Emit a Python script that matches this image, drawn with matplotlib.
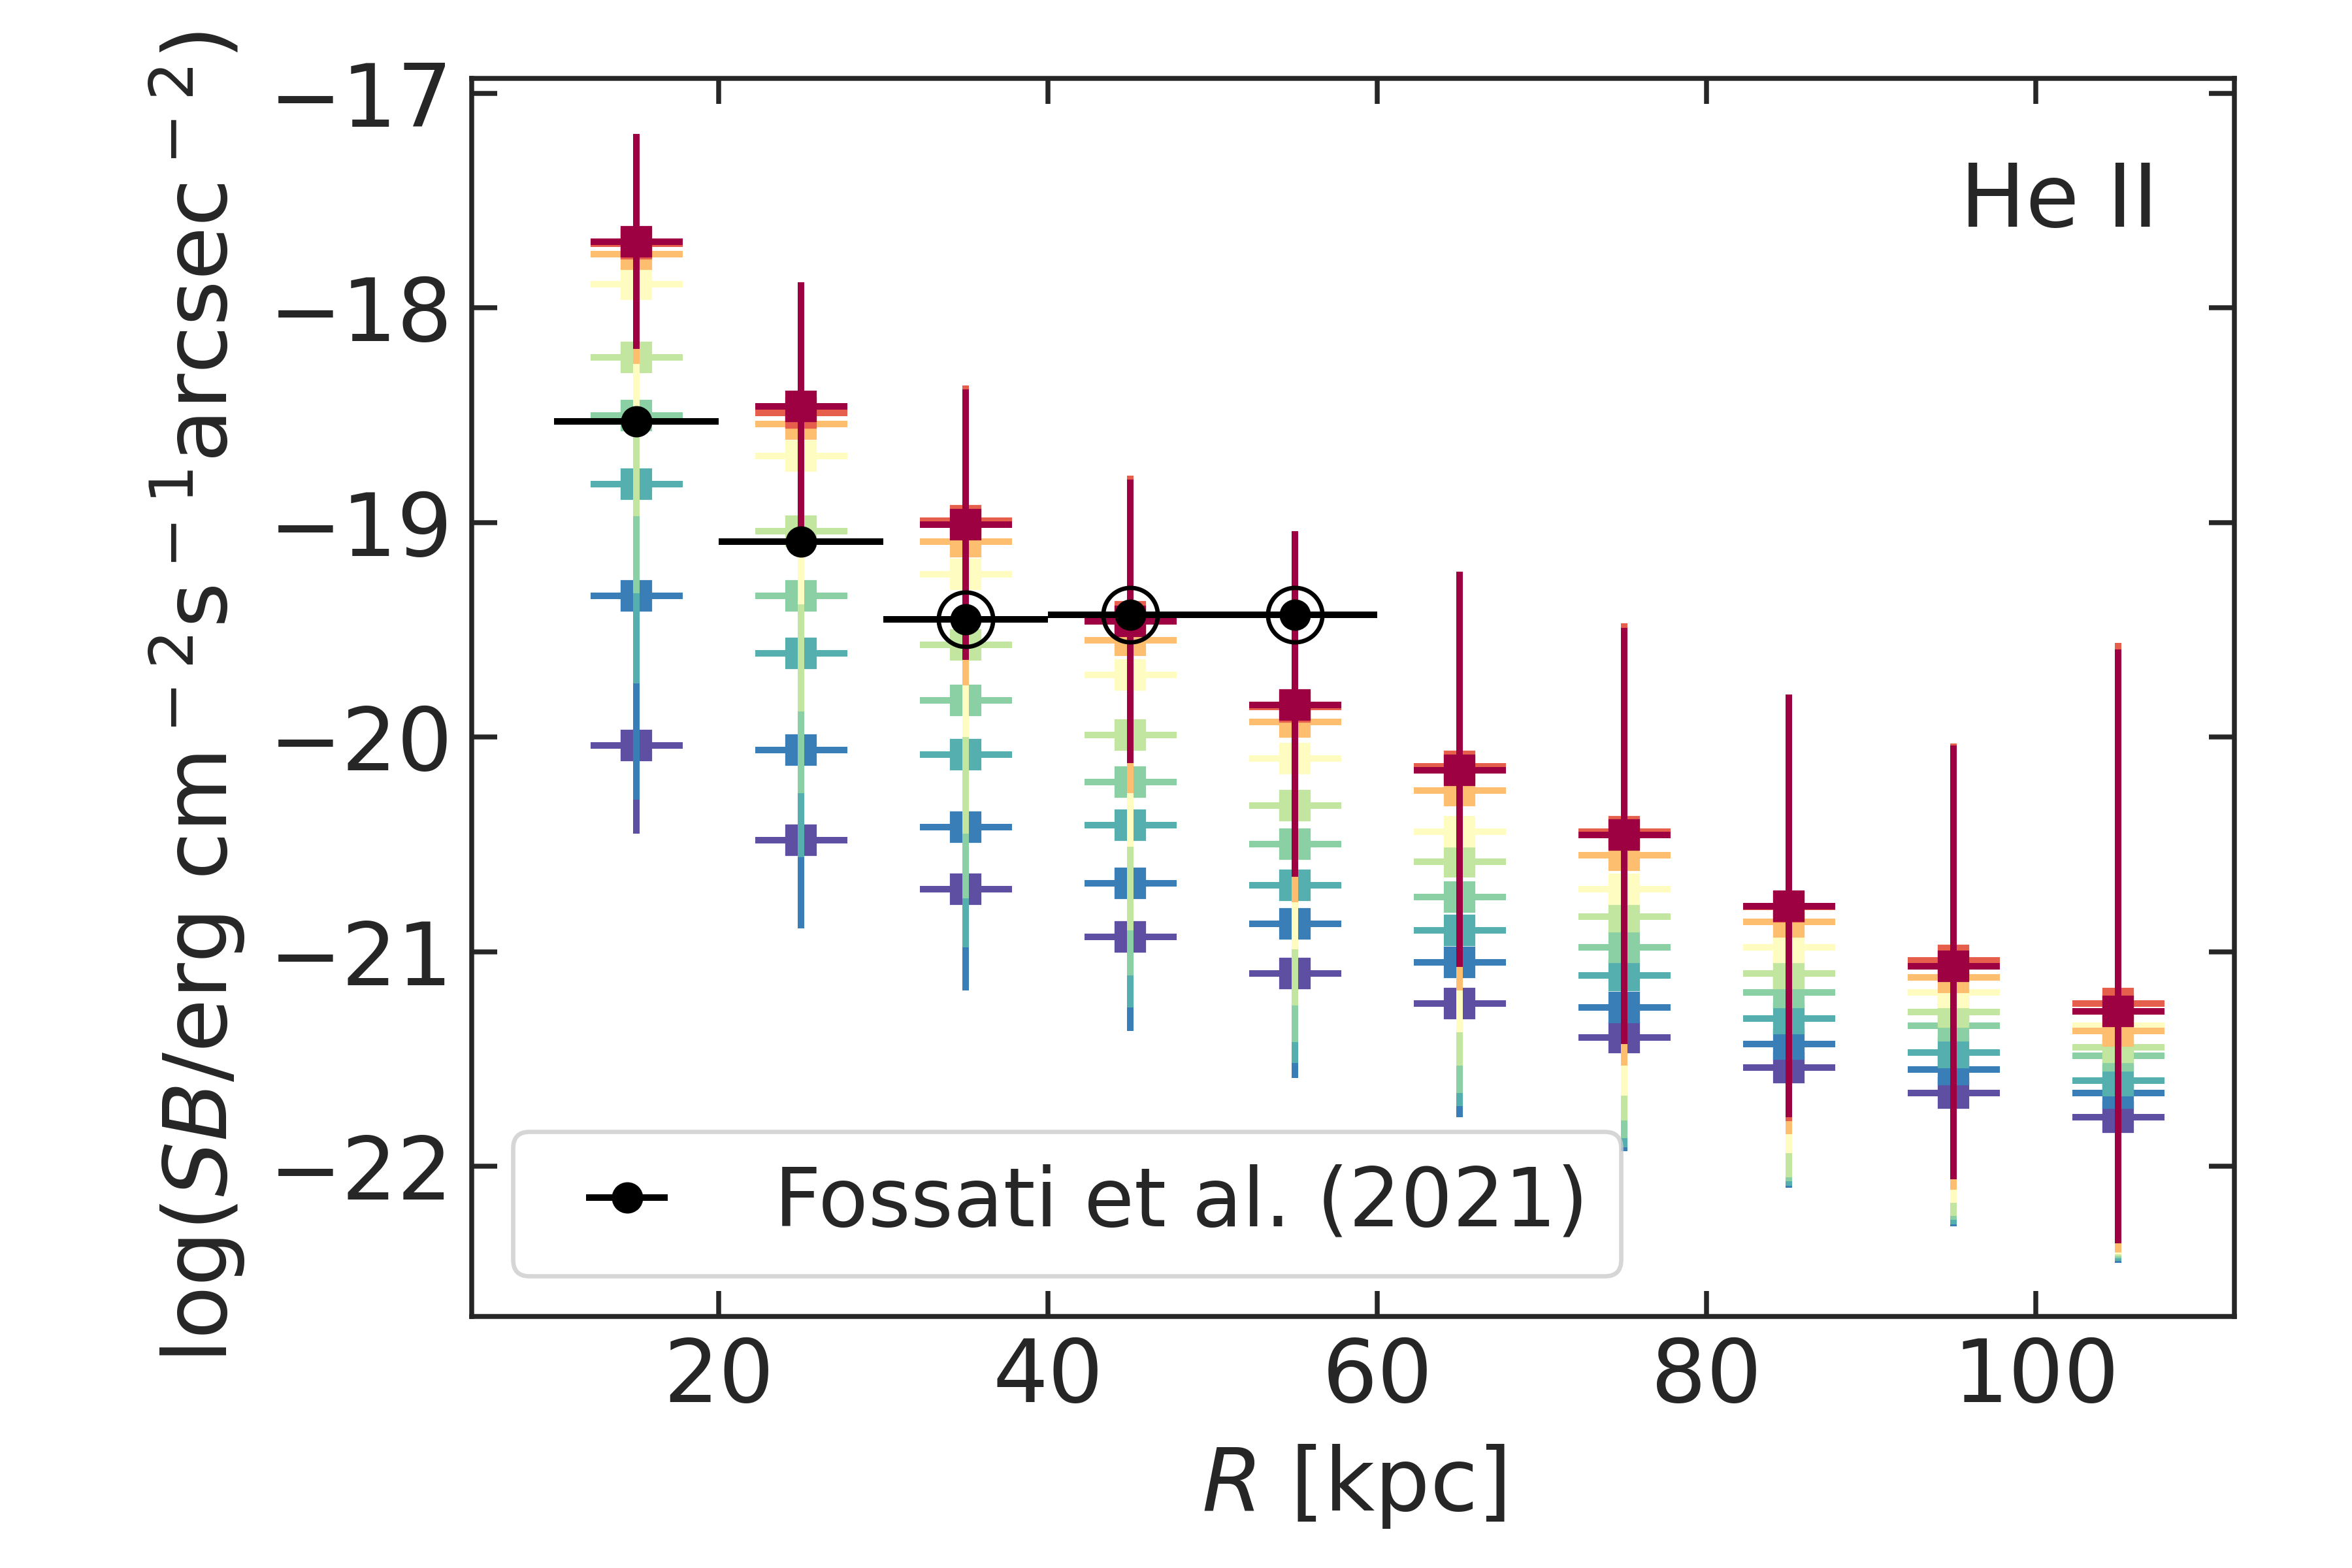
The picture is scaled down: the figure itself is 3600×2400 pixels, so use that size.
import numpy as np
import matplotlib
matplotlib.use('Agg')
import matplotlib.pyplot as plt

# radial bins [kpc]
R_BINS = [15, 25, 35, 45, 55, 65, 75, 85, 95, 105]
R_HALF = 2.8

# model profiles, drawn from bottom (purple) to top (dark red)
SERIES_COLORS = ['#5e4fa2', '#3a7eb8', '#54afae', '#8bd0a4', '#c2e6a0',
                 '#fffcc2', '#fdbe6f', '#e65f4c', '#9e0142']

sb_purple = [-20.04, -20.48, -20.71, -20.93, -21.10, -21.24, -21.40, -21.54, -21.66, -21.77]
sb_blue = [-19.34, -20.06, -20.42, -20.68, -20.87, -21.05, -21.26, -21.43, -21.55, -21.66]
sb_teal = [-18.82, -19.61, -20.08, -20.41, -20.69, -20.90, -21.11, -21.31, -21.47, -21.60]
sb_green = [-18.50, -19.34, -19.83, -20.21, -20.50, -20.745, -20.98, -21.19, -21.345, -21.486]
sb_lgreen = [-18.23, -19.04, -19.57, -19.99, -20.32, -20.58, -20.835, -21.10, -21.28, -21.445]
sb_yellow = [-17.89, -18.69, -19.24, -19.71, -20.10, -20.44, -20.71, -20.98, -21.19, -21.345]
sb_orange = [-17.75, -18.54, -19.09, -19.55, -19.93, -20.25, -20.55, -20.86, -21.12, -21.37]
sb_red = [-17.70, -18.49, -18.99, -19.44, -19.86, -20.135, -20.44, -20.79, -21.04, -21.24]
sb_dred = [-17.69, -18.46, -19.01, -19.46, -19.85, -20.155, -20.457, -20.787, -21.069, -21.278]

# lower ends of the error bars
lo_purple = [-20.45, -20.85, -21.15, -21.34, -21.56, -21.75, -21.91, -22.09, -22.26, -22.43]
lo_blue = [-20.29, -20.89, -21.18, -21.37, -21.59, -21.77, -21.93, -22.10, -22.28, -22.45]
lo_teal = [-19.75, -20.56, -20.98, -21.26, -21.52, -21.72, -21.91, -22.09, -22.27, -22.44]
lo_green = [-19.33, -20.26, -20.75, -21.11, -21.42, -21.66, -21.87, -22.07, -22.25, -22.43]
lo_lgreen = [-18.97, -19.88, -20.45, -20.90, -21.25, -21.53, -21.785, -22.05, -22.23, -22.42]
lo_yellow = [-18.48, -19.38, -20.00, -20.51, -20.99, -21.375, -21.67, -21.94, -22.17, -22.41]
lo_orange = [-18.26, -19.12, -19.76, -20.26, -20.77, -21.18, -21.53, -21.85, -22.11, -22.40]
lo_red = [-18.18, -19.05, -19.63, -20.11, -20.64, -21.06, -21.42, -21.79, -22.05, -22.35]
lo_dred = [-18.19, -19.06, -19.64, -20.12, -20.65, -21.07, -21.43, -21.77, -22.06, -22.36]

# upper ends of the error bars (mostly hidden under the top series)
hi_purple = [-19.63, -20.11, -20.27, -20.52, -20.64, -20.73, -20.89, -20.99, -21.06, -21.11]
hi_blue = [-18.39, -19.23, -19.66, -19.99, -20.15, -20.33, -20.59, -20.76, -20.82, -20.87]
hi_teal = [-17.89, -18.66, -19.18, -19.56, -19.86, -20.08, -20.31, -20.53, -20.67, -20.76]
hi_green = [-17.67, -18.42, -18.91, -19.31, -19.58, -19.83, -20.09, -20.31, -20.44, -20.54]
hi_lgreen = [-17.49, -18.20, -18.69, -19.08, -19.39, -19.63, -19.89, -20.15, -20.33, -20.47]
hi_yellow = [-17.30, -18.00, -18.48, -18.91, -19.21, -19.50, -19.75, -20.02, -20.21, -20.28]
hi_orange = [-17.24, -17.96, -18.42, -18.84, -19.09, -19.32, -19.57, -19.87, -20.13, -20.34]
hi_red = [-17.21, -17.90, -18.36, -18.78, -19.06, -19.25, -19.47, -19.82, -20.03, -19.56]
hi_dred = [-17.19, -17.88, -18.38, -18.80, -19.04, -19.23, -19.49, -19.80, -20.04, -19.59]

SB_ALL = [sb_purple, sb_blue, sb_teal, sb_green, sb_lgreen, sb_yellow, sb_orange, sb_red, sb_dred]
LO_ALL = [lo_purple, lo_blue, lo_teal, lo_green, lo_lgreen, lo_yellow, lo_orange, lo_red, lo_dred]
HI_ALL = [hi_purple, hi_blue, hi_teal, hi_green, hi_lgreen, hi_yellow, hi_orange, hi_red, hi_dred]

# Fossati et al. (2021) stacked HeII profile
fos_r = [15, 25, 35, 45, 55]
fos_sb = [-18.53, -19.09, -19.45, -19.43, -19.43]
fos_rerr = [5, 5, 5, 5, 5]
fos_circled = [False, False, True, True, True]

DARK = '#262626'
plt.rcParams['font.family'] = ['DejaVu Sans']
plt.rcParams['mathtext.fontset'] = 'dejavusans'

fig = plt.figure(figsize=(6, 4), dpi=600)
ax = fig.add_axes([0.2006, 0.1604, 0.9500 - 0.2006, 0.95 - 0.1604])

for i, (sb, lo, hi, col) in enumerate(zip(SB_ALL, LO_ALL, HI_ALL, SERIES_COLORS)):
    sb = np.array(sb)
    yerr = [sb - np.array(lo), np.array(hi) - sb]
    ax.errorbar(R_BINS, sb, yerr=yerr, xerr=R_HALF, fmt='s', color=col,
                ms=5.0, mew=0.75, mec=col, elinewidth=1.2, capsize=0,
                zorder=i + 1)

ax.errorbar(fos_r, fos_sb, xerr=fos_rerr, fmt='o', color='k', ms=5.0, mew=0.75,
            elinewidth=1.2, capsize=0, zorder=20, label='Fossati et al. (2021)')
circ_r = [r for r, c in zip(fos_r, fos_circled) if c]
circ_sb = [s for s, c in zip(fos_sb, fos_circled) if c]
ax.plot(circ_r, circ_sb, 'o', mfc='none', mec='k', ms=10, mew=0.8, zorder=21)

ax.set_xlim(5.0, 112.05)
ax.set_ylim(-22.70, -16.93)

ax.text(0.957, 0.9, 'He II', ha='right', va='center', transform=ax.transAxes,
        fontsize=16, color=DARK)

ax.set_xlabel(r'$R$ [kpc]', fontsize=16, color=DARK)
# old-style mathtext spacing around the superscript minus signs
ax.set_ylabel(r'log($SB$/erg cm$^{\:-\:2}$s$^{\:-\:1}$arcsec$^{\:-\:2}$)',
              fontsize=16, color=DARK)

ax.tick_params(axis='both', which='major', direction='in', top=True, right=True,
               length=4.7, width=0.9, colors=DARK, labelsize=16)
for sp in ax.spines.values():
    sp.set_color(DARK)
    sp.set_linewidth(0.9)

leg = ax.legend(loc='lower left', fontsize=15, frameon=True)
leg.get_frame().set_linewidth(0.8)
for t in leg.get_texts():
    t.set_color(DARK)

fig.savefig('out.png', dpi=600, facecolor='white')
